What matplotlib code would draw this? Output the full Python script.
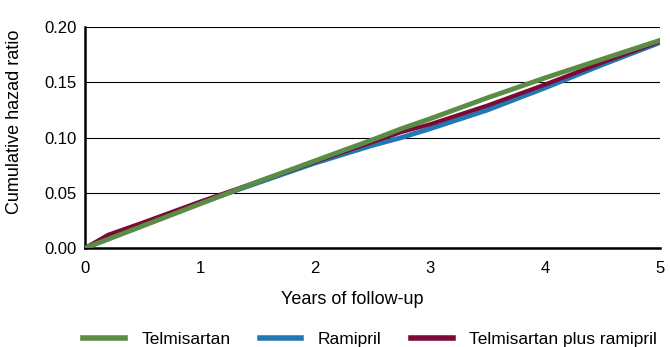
import matplotlib.pyplot as plt

# Cumulative hazard curves
years = [0, 0.2, 0.5, 1, 1.5, 2, 2.5, 2.75, 3, 3.5, 4, 4.5, 5]
telmisartan = [0, 0.008, 0.020, 0.040, 0.060, 0.079, 0.098, 0.108, 0.117, 0.136, 0.154, 0.171, 0.188]
ramipril = [0, 0.009, 0.021, 0.041, 0.059, 0.077, 0.093, 0.100, 0.108, 0.125, 0.145, 0.166, 0.186]
combo = [0, 0.012, 0.023, 0.042, 0.060, 0.078, 0.096, 0.105, 0.112, 0.129, 0.148, 0.168, 0.187]

series_names = ["Telmisartan", "Ramipril", "Telmisartan plus ramipril"]
colors = ["#5b8c46", "#2277b4", "#7a0a36"]

plt.rcParams["font.family"] = ["Liberation Sans", "DejaVu Sans"]

fig = plt.figure(figsize=(6.7, 3.47), dpi=100)
ax = fig.add_axes([0.127, 0.285, 0.858, 0.637])

ax.plot(years, combo, color=colors[2], lw=3, zorder=3)
ax.plot(years, ramipril, color=colors[1], lw=3.5, zorder=2)
ax.plot(years, telmisartan, color=colors[0], lw=3.5, zorder=4)

ax.set_xlim(0, 5)
ax.set_ylim(0, 0.2)
ax.set_yticks([0, 0.05, 0.10, 0.15, 0.20])
ax.set_yticklabels(["0.00", "0.05", "0.10", "0.15", "0.20"])
ax.set_xticks(range(6))
ax.tick_params(length=0, labelsize=12)
ax.tick_params(axis="y", pad=6)
ax.tick_params(axis="x", pad=9)

ax.grid(axis="y", color="black", lw=0.8)
ax.set_axisbelow(True)
for side in ["top", "right"]:
    ax.spines[side].set_visible(False)
for side in ["left", "bottom"]:
    ax.spines[side].set_linewidth(1.8)

ax.set_xlabel("Years of follow-up", fontsize=13)
ax.xaxis.set_label_coords(0.464, -0.195)
ax.set_ylabel("Cumulative hazad ratio", fontsize=13)
ax.yaxis.set_label_coords(-0.108, 0.57)

handles = [plt.Line2D([], [], color=c, lw=4) for c in colors]
fig.legend(handles, series_names, loc="center left", ncol=3, frameon=False,
           fontsize=12.5, bbox_to_anchor=(83 / 670, 1 - 339 / 347),
           borderpad=0, borderaxespad=0, handlelength=2.4,
           columnspacing=1.7, handletextpad=0.95)

fig.savefig("out.png", dpi=100)
